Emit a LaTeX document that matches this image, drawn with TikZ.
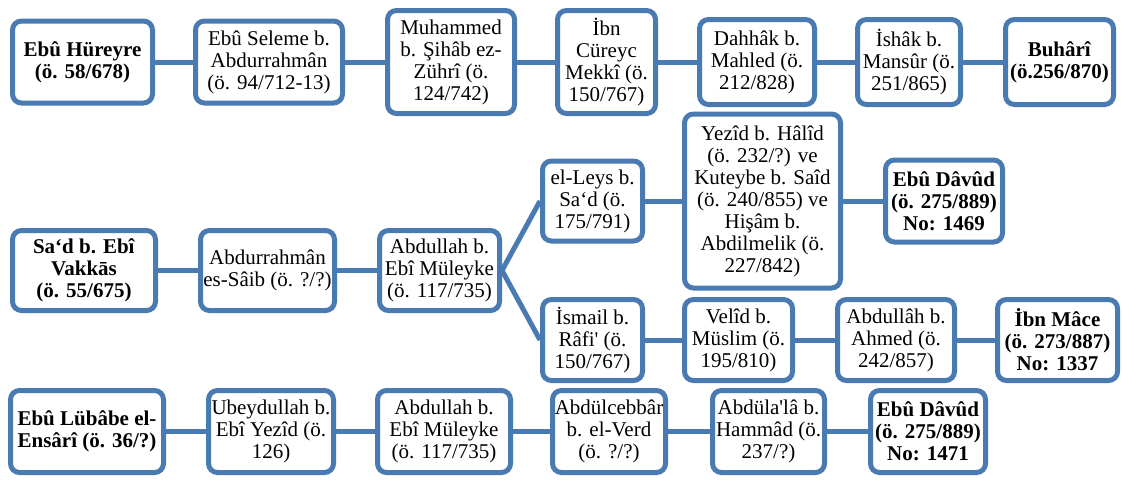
\documentclass[tikz,border=0pt]{standalone}
\usepackage{fontspec}
\setmainfont{Liberation Serif}
\usetikzlibrary{backgrounds}
\definecolor{bordercol}{RGB}{74,122,178}
\tikzset{
  box/.style={draw=bordercol, line width=5pt, rounded corners=9pt, fill=white,
    align=center, inner sep=0pt, font=\fontsize{21}{22}\selectfont},
  conn/.style={draw=bordercol, line width=5pt}
}
\newcommand\bx[5]{\node[box,minimum width=#3,minimum height=#4] (#1) at (#2) {#5};}
\begin{document}
\begin{tikzpicture}[x=1pt,y=-1pt]
\useasboundingbox (0,0) rectangle (1122,480);
% row 1
\bx{A1}{82.5,62}{140}{82}{\textbf{Ebû Hüreyre}\\\textbf{(ö. 58/678)}}
\bx{A2}{269,62}{147}{82}{Ebû Seleme b.\\Abdurrahmân\\(ö. 94/712-13)}
\bx{A3}{451,62}{127}{103}{Muhammed\\b. Şihâb ez-\\Zührî (ö.\\124/742)}
\bx{A4}{606.5,62}{98}{103}{İbn\\Cüreyc\\Mekkî (ö.\\150/767)}
\bx{A5}{757,62}{115}{85}{Dahhâk b.\\Mahled (ö.\\212/828)}
\bx{A6}{909,62}{103}{85}{İshâk b.\\Mansûr (ö.\\251/865)}
\bx{A7}{1059.5,62}{108}{85}{\textbf{Buhârî}\\\textbf{(ö.256/870)}}
% row 2
\bx{B1}{84,270.5}{143}{80}{\textbf{Sa‘d b. Ebî}\\\textbf{Vakkās}\\\textbf{(ö. 55/675)}}
\bx{B2}{267.5,270.5}{134}{80}{Abdurrahmân\\es-Sâib (ö. ?/?)}
\bx{B3}{439.5,270.5}{120}{80}{Abdullah b.\\Ebî Müleyke\\(ö. 117/735)}
\bx{B4}{592.5,201}{100}{80}{el-Leys b.\\Sa‘d (ö.\\175/791)}
\bx{B5}{762.5,201}{156}{174}{Yezîd b. Hâlîd\\(ö. 232/?) ve\\Kuteybe b. Saîd\\(ö. 240/855) ve\\Hişâm b.\\Abdilmelik (ö.\\227/842)}
\bx{B6}{944,201}{117}{82}{\textbf{Ebû Dâvûd}\\\textbf{(ö. 275/889)}\\\textbf{No: 1469}}
\bx{C4}{592.5,340}{100}{81}{İsmail b.\\Râfi\textquotesingle{} (ö.\\150/767)}
\bx{C5}{738.5,340}{108}{81}{Velîd b.\\Müslim (ö.\\195/810)}
\bx{C6}{896,340}{117}{81}{Abdullâh b.\\Ahmed (ö.\\242/857)}
\bx{C7}{1057.5,340}{120}{81}{\textbf{İbn Mâce}\\\textbf{(ö. 273/887)}\\\textbf{No: 1337}}
% row 3
\bx{D1}{87,431.5}{153}{82}{\textbf{Ebû Lübâbe el-}\\\textbf{Ensârî (ö. 36/?)}}
\bx{D2}{271,431.5}{125}{82}{Ubeydullah b.\\Ebî Yezîd (ö.\\126)}
\bx{D3}{444,431.5}{133}{82}{Abdullah b.\\Ebî Müleyke\\(ö. 117/735)}
\bx{D4}{609,431.5}{113}{82}{Abdülcebbâr\\b. el-Verd\\(ö. ?/?)}
\bx{D5}{768.5,431.5}{112}{82}{Abdüla\textquotesingle{}lâ b.\\Hammâd (ö.\\237/?)}
\bx{D6}{928,431.5}{115}{82}{\textbf{Ebû Dâvûd}\\\textbf{(ö. 275/889)}\\\textbf{No: 1471}}
\begin{scope}[on background layer]
\fill[white] (0,0) rectangle (1122,480);
\draw[conn] (A1.east) -- (A2.west);
\draw[conn] (A2.east) -- (A3.west);
\draw[conn] (A3.east) -- (A4.west);
\draw[conn] (A4.east) -- (A5.west);
\draw[conn] (A5.east) -- (A6.west);
\draw[conn] (A6.east) -- (A7.west);
\draw[conn] (B1.east) -- (B2.west);
\draw[conn] (B2.east) -- (B3.west);
\draw[conn] (B3.east) -- (B4.west);
\draw[conn] (B3.east) -- (C4.west);
\draw[conn] (B4.east) -- (B5.west);
\draw[conn] (B5.east) -- (B6.west);
\draw[conn] (C4.east) -- (C5.west);
\draw[conn] (C5.east) -- (C6.west);
\draw[conn] (C6.east) -- (C7.west);
\draw[conn] (D1.east) -- (D2.west);
\draw[conn] (D2.east) -- (D3.west);
\draw[conn] (D3.east) -- (D4.west);
\draw[conn] (D4.east) -- (D5.west);
\draw[conn] (D5.east) -- (D6.west);
\end{scope}
\end{tikzpicture}
\end{document}
